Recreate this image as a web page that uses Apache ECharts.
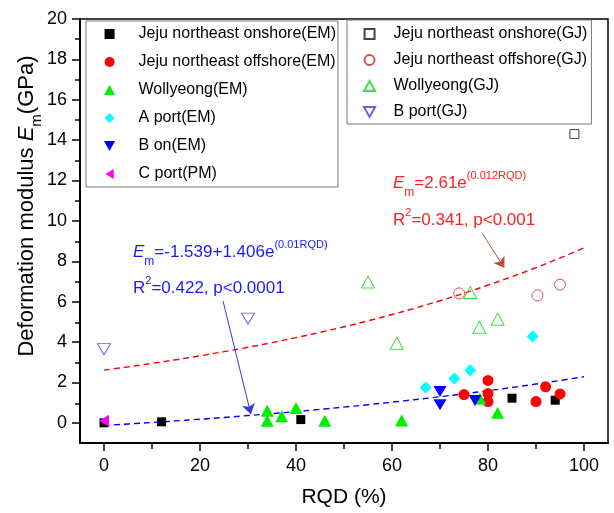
<!DOCTYPE html>
<html>
<head>
<meta charset="utf-8">
<script src="https://cdn.jsdelivr.net/npm/echarts@6/dist/echarts.min.js"></script>
<style>
  html, body { margin: 0; padding: 0; background: #fff; }
  #chart { width: 614px; height: 513px; }
</style>
</head>
<body>
<div id="chart"></div>
<script>
const FONT = '"Liberation Sans", Arial, sans-serif';

// Axis ticks
const xTicks = [0, 20, 40, 60, 80, 100];
const xMinorTicks = [10, 30, 50, 70, 90];
const yTicks = [0, 2, 4, 6, 8, 10, 12, 14, 16, 18, 20];
const yMinorTicks = [1, 3, 5, 7, 9, 11, 13, 15, 17, 19];

// Measured points: [RQD (%), Em (GPa)]
const jejuOnshoreEM = [[0, 0], [12, 0.05], [41, 0.16], [85, 1.22], [94, 1.12]];
const jejuOffshoreEM = [[75, 1.4], [80, 2.1], [80, 1.45], [80, 1.05], [90, 1.05], [92, 1.78], [95, 1.43]];
const wollyeongEM = [[34, 0.6], [34, 0.1], [37, 0.32], [40, 0.73], [46, 0.1], [62, 0.12], [78.3, 1.21], [82, 0.5]];
const aPortEM = [[67, 1.75], [73, 2.2], [76.3, 2.6], [89.3, 4.27]];
const bOnEM = [[70, 1.55], [70, 0.9], [77.3, 1.1]];
const cPortPM = [[0, 0.1]];
const jejuOnshoreGJ = [[98, 14.3]];
const jejuOffshoreGJ = [[74, 6.41], [90.3, 6.31], [95, 6.84]];
const wollyeongGJ = [[55, 6.97], [61, 3.94], [76.3, 6.45], [78.2, 4.73], [82, 5.13]];
const bPortGJ = [[0, 3.65], [30, 5.16]];

// Regression fits as printed on the plot
const fitRQD = [0, 5, 10, 15, 20, 25, 30, 35, 40, 45, 50, 55, 60, 65, 70, 75, 80, 85, 90, 95, 100];
const gjFit = { a: 2.61, b: 0.012 };               // Em = 2.61 e^(0.012 RQD)
const emFit = { c: -1.539, a: 1.406, b: 0.01 };    // Em = -1.539 + 1.406 e^(0.01 RQD)
const gjFitLine = fitRQD.map(r => [r, gjFit.a * Math.exp(gjFit.b * r)]);
const emFitLine = fitRQD.map(r => [r, emFit.c + emFit.a * Math.exp(emFit.b * r)]);

// Marker shapes as paths so legend icons keep their proportions
const SQUARE = 'path://M0,0 H10 V10 H0 Z';
const TRI_UP = 'path://M5,0 L10,9 L0,9 Z';
const TRI_DOWN = 'path://M0,0 L10,0 L5,9 Z';
const TRI_LEFT = 'path://M0,6 L10,0 L10,12 Z';
const DIAMOND = 'path://M5,0 L10,5 L5,10 L0,5 Z';

function filled(name, data, symbol, size, color) {
  return {
    name, type: 'scatter', data, symbol, symbolSize: size,
    itemStyle: { color, opacity: 1 },
    emphasis: { disabled: true }, z: 4
  };
}
function hollow(name, data, symbol, size, color) {
  return {
    name, type: 'scatter', data, symbol, symbolSize: size,
    itemStyle: { color: 'rgba(255,255,255,0)', borderColor: color, borderWidth: 1, opacity: 1 },
    emphasis: { disabled: true }, z: 3
  };
}

const chart = echarts.init(document.getElementById('chart'), null, { renderer: 'canvas' });

const gridBox = { left: 80, right: 6, top: 19, bottom: 69 };
const tickLine = { color: '#000', width: 1.5 };

const eqRich = (color) => ({
  n: { fontSize: 17, fontFamily: FONT, fill: color, verticalAlign: 'middle' },
  e: { fontSize: 17, fontFamily: FONT, fontStyle: 'italic', fill: color, verticalAlign: 'middle' },
  sub: { fontSize: 12, fontFamily: FONT, fill: color, padding: [20, 0, 0, 0], verticalAlign: 'middle' },
  sup: { fontSize: 11, fontFamily: FONT, fill: color, padding: [0, 0, 14, 0], verticalAlign: 'middle' }
});

const option = {
  animation: false,
  backgroundColor: '#fff',
  grid: [
    Object.assign({ show: true, borderColor: '#000', borderWidth: 1.5, backgroundColor: 'transparent' }, gridBox),
    Object.assign({ show: false }, gridBox)
  ],
  xAxis: [
    {
      type: 'value', gridIndex: 0, min: -5, max: 105, position: 'bottom',
      axisLine: { show: true, onZero: false, lineStyle: { color: '#000', width: 2 } },
      axisTick: { show: true, customValues: xTicks, length: 8, lineStyle: tickLine },
      axisLabel: { customValues: xTicks, margin: 14, fontSize: 18, color: '#000', fontFamily: FONT },
      splitLine: { show: false },
      name: 'RQD (%)', nameLocation: 'middle', nameGap: 44,
      nameTextStyle: { fontSize: 21, color: '#000', fontFamily: FONT }
    },
    {
      type: 'value', gridIndex: 1, min: -5, max: 105, position: 'bottom',
      axisLine: { show: false, onZero: false },
      axisTick: { show: true, customValues: xMinorTicks, length: 5, lineStyle: tickLine },
      axisLabel: { show: false },
      splitLine: { show: false }
    }
  ],
  yAxis: [
    {
      type: 'value', gridIndex: 0, min: -1, max: 20, position: 'left',
      axisLine: { show: true, onZero: false, lineStyle: { color: '#000', width: 2 } },
      axisTick: { show: true, customValues: yTicks, length: 8, lineStyle: tickLine },
      axisLabel: { customValues: yTicks, margin: 13, fontSize: 18, color: '#000', fontFamily: FONT },
      splitLine: { show: false }
    },
    {
      type: 'value', gridIndex: 1, min: -1, max: 20, position: 'left',
      axisLine: { show: false, onZero: false },
      axisTick: { show: true, customValues: yMinorTicks, length: 5, lineStyle: tickLine },
      axisLabel: { show: false },
      splitLine: { show: false }
    }
  ],
  legend: [
    {
      orient: 'vertical', left: 86, top: 21, padding: [5, 2, 5, 18],
      itemGap: 12, itemWidth: 48, itemHeight: 10, symbolKeepAspect: true,
      borderColor: '#777', borderWidth: 1, selectedMode: false,
      textStyle: { fontSize: 16, color: '#000', fontFamily: FONT },
      data: ['Jeju northeast onshore(EM)', 'Jeju northeast offshore(EM)', 'Wollyeong(EM)', 'A port(EM)', 'B on(EM)', 'C port(PM)']
    },
    {
      orient: 'vertical', left: 347, top: 20, padding: [6, 4, 4, 16],
      itemGap: 10, itemWidth: 38, itemHeight: 10, symbolKeepAspect: true,
      borderColor: '#777', borderWidth: 1, selectedMode: false,
      textStyle: { fontSize: 16, color: '#000', fontFamily: FONT },
      data: ['Jeju northeast onshore(GJ)', 'Jeju northeast offshore(GJ)', 'Wollyeong(GJ)', 'B port(GJ)']
    }
  ],
  graphic: [
    {
      type: 'text', x: 27, y: 206, rotation: Math.PI / 2, silent: true,
      style: {
        text: '{n|Deformation modulus }{e|E}{sub|m}{n|(GPa)}',
        align: 'center', verticalAlign: 'middle', fill: '#000',
        rich: {
          n: { fontSize: 22, fontFamily: FONT, fill: '#000', verticalAlign: 'middle' },
          e: { fontSize: 22, fontFamily: FONT, fontStyle: 'italic', fill: '#000', verticalAlign: 'middle' },
          sub: { fontSize: 15, fontFamily: FONT, fill: '#000', padding: [20, 0, 0, 0], verticalAlign: 'middle' }
        }
      }
    },
    {
      type: 'text', x: 133, y: 252, silent: true,
      style: { text: '{e|E}{sub|m}{n|=-1.539+1.406e}{sup|(0.01RQD)}', align: 'left', verticalAlign: 'middle', fill: '#1a1aff', rich: eqRich('#1a1aff') }
    },
    {
      type: 'text', x: 133, y: 288, silent: true,
      style: { text: '{n|R}{sup|2}{n|=0.422, p<0.0001}', align: 'left', verticalAlign: 'middle', fill: '#1a1aff', rich: eqRich('#1a1aff') }
    },
    {
      type: 'text', x: 393, y: 183, silent: true,
      style: { text: '{e|E}{sub|m}{n|=2.61e}{sup|(0.012RQD)}', align: 'left', verticalAlign: 'middle', fill: '#ff2020', rich: eqRich('#ff2020') }
    },
    {
      type: 'text', x: 393, y: 220, silent: true,
      style: { text: '{n|R}{sup|2}{n|=0.341, p<0.001}', align: 'left', verticalAlign: 'middle', fill: '#ff2020', rich: eqRich('#ff2020') }
    }
  ],
  series: [
    {
      name: 'GJ fit', type: 'line', data: gjFitLine, showSymbol: false, smooth: true, z: 2,
      lineStyle: { color: '#ff0000', width: 1.4, type: [6, 4] },
      emphasis: { disabled: true },
      markLine: {
        silent: true, symbol: ['none', 'arrow'], symbolSize: 10,
        label: { show: false },
        lineStyle: { color: '#c04848', width: 1, type: 'solid' },
        data: [[{ coord: [78.8, 9.38] }, { coord: [83.4, 7.68] }]]
      }
    },
    {
      name: 'EM fit', type: 'line', data: emFitLine, showSymbol: false, smooth: true, z: 2,
      lineStyle: { color: '#0000ff', width: 1.4, type: [6, 4] },
      emphasis: { disabled: true },
      markLine: {
        silent: true, symbol: ['none', 'arrow'], symbolSize: 10,
        label: { show: false },
        lineStyle: { color: '#3a3ad0', width: 1, type: 'solid' },
        data: [[{ coord: [24.8, 6.03] }, { coord: [30.6, 0.43] }]]
      }
    },
    hollow('Jeju northeast onshore(GJ)', jejuOnshoreGJ, SQUARE, 9, '#444444'),
    hollow('Jeju northeast offshore(GJ)', jejuOffshoreGJ, 'circle', 11, '#d85050'),
    hollow('Wollyeong(GJ)', wollyeongGJ, TRI_UP, [13, 12], '#44dd44'),
    hollow('B port(GJ)', bPortGJ, TRI_DOWN, [13, 11], '#6464e0'),
    filled('Jeju northeast onshore(EM)', jejuOnshoreEM, SQUARE, 9, '#000000'),
    filled('Jeju northeast offshore(EM)', jejuOffshoreEM, 'circle', 11, '#ff0000'),
    filled('Wollyeong(EM)', wollyeongEM, TRI_UP, [13, 12], '#00ee00'),
    filled('A port(EM)', aPortEM, DIAMOND, [12, 12], '#00ffff'),
    filled('B on(EM)', bOnEM, TRI_DOWN, [13, 11], '#0000ff'),
    filled('C port(PM)', cPortPM, TRI_LEFT, [10, 12], '#ff00ff')
  ]
};

chart.setOption(option);
</script>
</body>
</html>
